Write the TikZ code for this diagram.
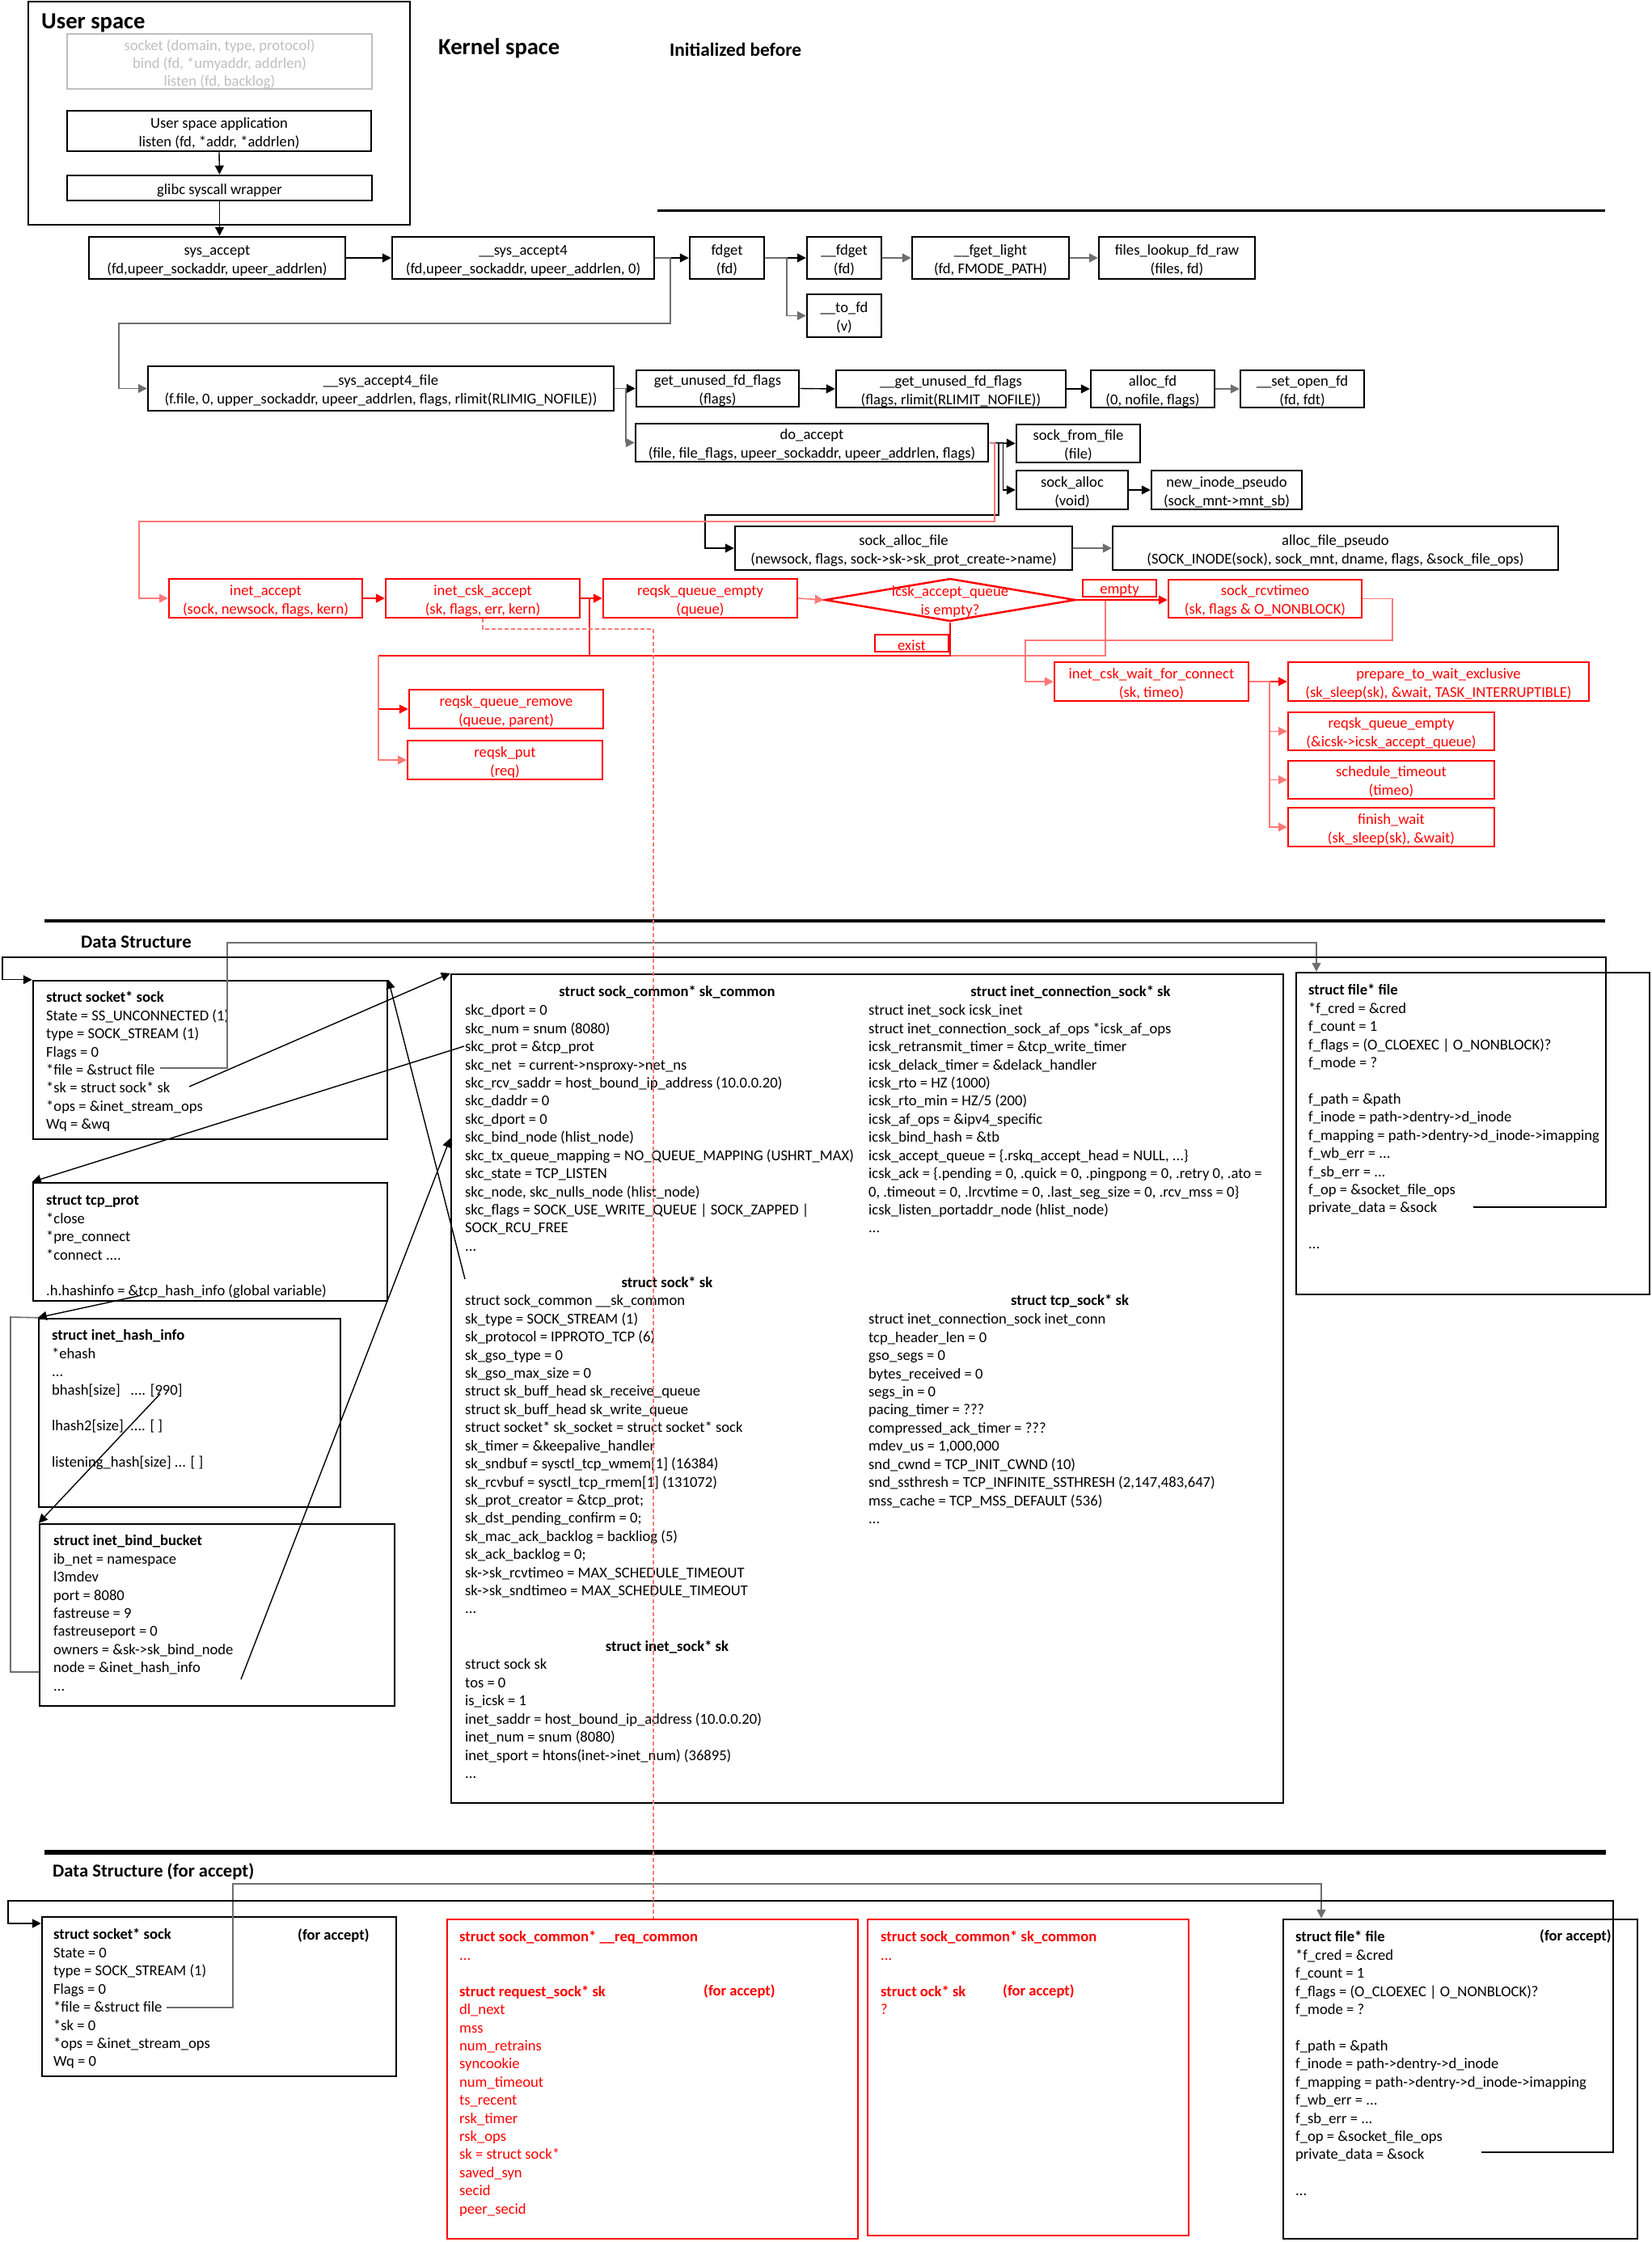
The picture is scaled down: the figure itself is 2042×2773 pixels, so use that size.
\documentclass[tikz,border=0pt]{standalone}
\usepackage{fontspec}
\setmainfont{Carlito}
\usetikzlibrary{arrows.meta,shapes.geometric}
\definecolor{rd}{RGB}{255,0,0}
\definecolor{lrd}{RGB}{255,120,120}
\definecolor{gtx}{RGB}{191,191,191}
\definecolor{cg}{RGB}{110,110,110}
\newcommand\fnf{\fontsize{18.67}{23}\selectfont}
\newcommand\dsf{\fontsize{18.67}{22.5}\selectfont}
\newcommand\twol[2]{\strut#1\\\strut#2}
\newcommand\mkbox[7]{\node[#1,minimum width={(#4-#2)*1bp},minimum height={(#5-#3)*1bp}] (#6) at ({(#2+#4)/2},{(#3+#5)/2}) {};
 \node[#1,draw=none] (#6t) at ({(#2+#4)/2},{(#3+#5)/2+3}) {#7};}
\newcommand\dtx[4]{\node[dtext] (#1) at (#2,{#3-8}) {\strut#4};}
\newcommand\hdx[4]{\node[dhead] (#1) at (#2,{#3+6}) {#4};}
\tikzset{
 fbox/.style={draw=black, line width=2.5bp, inner sep=0pt, align=center, font=\fnf},
 rbox/.style={fbox, draw=rd, text=rd},
 gbox/.style={draw=gtx, line width=2.5bp, inner sep=0pt, align=center, text=gtx, font=\fontsize{18.67}{22}\selectfont},
 dsbox/.style={draw=black, line width=2.5bp, inner sep=0pt},
 rdsbox/.style={draw=rd, line width=2.5bp, inner sep=0pt},
 dtext/.style={anchor=north west, inner sep=0pt, align=left, font=\dsf},
 dhead/.style={anchor=base, inner sep=0pt, font=\dsf\bfseries},
 arw/.style={-{Triangle[length=11bp,width=11bp]}},
 conn/.style={draw=black, line width=1.4bp},
 gconn/.style={draw=cg, line width=1.6bp},
 rconn/.style={draw=rd, line width=1.8bp},
 lconn/.style={draw=lrd, line width=1.6bp},
 dashl/.style={draw=lrd, line width=1.3bp, dash pattern=on 5bp off 3bp},
 ttl/.style={anchor=base west, inner sep=0pt},
}
\begin{document}
\begin{tikzpicture}[x=1bp,y=-1bp]
\useasboundingbox[fill=white] (0,0) rectangle (2042,2773);

% ---------- titles and separators
\node[ttl, font=\fontsize{28.7}{30}\selectfont\bfseries] (tus) at (51,35) {User space};
\node[ttl, font=\fontsize{28.7}{30}\selectfont\bfseries] (tks) at (542,67) {Kernel space};
\node[ttl, font=\fontsize{23.4}{25}\selectfont\bfseries] (tinit) at (828,69) {Initialized before};
\node[ttl, font=\fontsize{22.7}{25}\selectfont\bfseries] (tds) at (100,1172) {Data Structure};
\node[ttl, font=\fontsize{22.7}{25}\selectfont\bfseries] (tdsa) at (65,2321) {Data Structure (for accept)};
\draw[line width=3bp] (813,260) -- (1985,260);
\draw[line width=4.5bp] (55,1139) -- (1985,1139);
\draw[line width=6bp] (55,2291) -- (1986,2291);

% ---------- user space
\mkbox{fbox}{35}{2}{507}{278}{userspace}{}
\mkbox{gbox}{83}{42}{460}{110}{oldcalls}{socket (domain, type, protocol)\\bind (fd, *umyaddr, addrlen)\\listen (fd, backlog)}
\mkbox{fbox}{83}{137}{459}{187}{app}{\twol{User space application}{listen (fd, *addr, *addrlen)}}
\mkbox{fbox}{83}{217}{460}{248}{glibc}{glibc syscall wrapper}

% ---------- row 1
\mkbox{fbox}{110}{293}{427}{345}{sysaccept}{\twol{sys\_accept}{(fd,upeer\_sockaddr, upeer\_addrlen)}}
\mkbox{fbox}{485}{293}{809}{345}{sysaccept4}{\twol{\_\_sys\_accept4}{(fd,upeer\_sockaddr, upeer\_addrlen, 0)}}
\mkbox{fbox}{853}{293}{945}{345}{fdget}{\twol{fdget}{(fd)}}
\mkbox{fbox}{998}{293}{1090}{345}{fdgetb}{\twol{\_\_fdget}{(fd)}}
\mkbox{fbox}{1128}{293}{1322}{345}{fgetlight}{\twol{\_\_fget\_light}{(fd, FMODE\_PATH)}}
\mkbox{fbox}{1359}{293}{1552}{345}{fileslookup}{\twol{files\_lookup\_fd\_raw}{(files, fd)}}
\mkbox{fbox}{998}{364}{1090}{417}{tofd}{\twol{\_\_to\_fd}{(v)}}

% ---------- row 2
\mkbox{fbox}{183}{453}{759}{508}{sysfile}{\twol{\_\_sys\_accept4\_file}{(f.file, 0, upper\_sockaddr, upeer\_addrlen, flags, rlimit(RLIMIG\_NOFILE))}}
\mkbox{fbox}{787}{458}{988}{503}{getunused}{\twol{get\_unused\_fd\_flags}{(flags)}}
\mkbox{fbox}{1034}{458}{1318}{504}{getunusedb}{\twol{\_\_get\_unused\_fd\_flags}{(flags, rlimit(RLIMIT\_NOFILE))}}
\mkbox{fbox}{1349}{458}{1502}{504}{allocfd}{\twol{alloc\_fd}{(0, nofile, flags)}}
\mkbox{fbox}{1534}{458}{1687}{504}{setopen}{\twol{\_\_set\_open\_fd}{(fd, fdt)}}
\mkbox{fbox}{786}{524}{1222}{571}{doaccept}{\twol{do\_accept}{(file, file\_flags, upeer\_sockaddr, upeer\_addrlen, flags)}}
\mkbox{fbox}{1257}{525}{1410}{572}{sockfromfile}{\twol{sock\_from\_file}{(file)}}
\mkbox{fbox}{1257}{582}{1395}{630}{sockalloc}{\twol{sock\_alloc}{(void)}}
\mkbox{fbox}{1424}{582}{1610}{630}{newinode}{\twol{new\_inode\_pseudo}{(sock\_mnt->mnt\_sb)}}
\mkbox{fbox}{909}{651}{1326}{705}{sockallocfile}{\twol{sock\_alloc\_file}{(newsock, flags, sock->sk->sk\_prot\_create->name)}}
\mkbox{fbox}{1376}{651}{1927}{705}{allocfilepseudo}{\twol{alloc\_file\_pseudo}{(SOCK\_INODE(sock), sock\_mnt, dname, flags, \&sock\_file\_ops)}}

% ---------- red part
\mkbox{rbox}{209}{716}{448}{764}{inetaccept}{\twol{inet\_accept}{(sock, newsock, flags, kern)}}
\mkbox{rbox}{477}{716}{717}{764}{inetcsk}{\twol{inet\_csk\_accept}{(sk, flags, err, kern)}}
\mkbox{rbox}{746}{716}{986}{764}{reqempty}{\twol{reqsk\_queue\_empty}{(queue)}}
\node[draw=rd, line width=2.5bp, shape=diamond, minimum width=310bp, minimum height=53bp, inner sep=0pt] (diamond) at (1175,742) {};
\node[font=\fnf, text=rd, align=center, inner sep=0pt] (diamondtxt) at (1175,744) {\twol{icsk\_accept\_queue}{is empty?}};
\mkbox{rbox}{1339}{717}{1430}{738}{emptylbl}{empty}
\mkbox{rbox}{1445}{717}{1684}{764}{rcvtimeo}{\twol{sock\_rcvtimeo}{(sk, flags \& O\_NONBLOCK)}}
\mkbox{rbox}{1082}{785}{1173}{806}{existlbl}{exist}
\mkbox{rbox}{1304}{819}{1544}{867}{waitconn}{\twol{inet\_csk\_wait\_for\_connect}{(sk, timeo)}}
\mkbox{rbox}{1593}{819}{1965}{867}{prepwait}{\twol{prepare\_to\_wait\_exclusive}{(sk\_sleep(sk), \&wait, TASK\_INTERRUPTIBLE)}}
\mkbox{rbox}{1593}{881}{1848}{928}{reqemptyb}{\twol{reqsk\_queue\_empty}{(\&icsk->icsk\_accept\_queue)}}
\mkbox{rbox}{1593}{941}{1848}{988}{schedto}{\twol{schedule\_timeout}{(timeo)}}
\mkbox{rbox}{1593}{999}{1848}{1047}{finishwait}{\twol{finish\_wait}{(sk\_sleep(sk), \&wait)}}
\mkbox{rbox}{506}{853}{746}{901}{reqremove}{\twol{reqsk\_queue\_remove}{(queue, parent)}}
\mkbox{rbox}{504}{916}{745}{964}{reqput}{\twol{reqsk\_put}{(req)}}

% ---------- top connectors
\draw[conn,arw] (app.south) -- (glibc.north);
\draw[conn,arw] (glibc.south) -- (glibc.south |- sysaccept.north);
\draw[conn,arw] (sysaccept.east) -- (sysaccept4.west);
\draw[conn,arw] (sysaccept4.east) -- (fdget.west);
\draw[gconn,arw] (sysaccept4.east) -- (829,319) -- (829,400) -- (147,400) |- (sysfile.west);
\draw[conn,arw] (fdget.east) -- (fdgetb.west);
\draw[gconn,arw] (fdget.east) -- ++(27,0) |- (tofd.west);
\draw[gconn,arw] (fdgetb.east) -- (fgetlight.west);
\draw[gconn,arw] (fgetlight.east) -- (fileslookup.west);
\draw[conn,arw] (sysfile.east) -- (getunused.west);
\draw[gconn,arw] (sysfile.east) -- ++(14,0) |- (doaccept.west);
\draw[conn,arw] (getunused.east) -- (getunusedb.west);
\draw[conn,arw] (getunusedb.east) -- (allocfd.west);
\draw[gconn,arw] (allocfd.east) -- (setopen.west);
\draw[conn,arw] (doaccept.east) -- (sockfromfile.west);
\draw[conn,arw] (doaccept.east) -- ++(17,0) |- (sockalloc.west);
\draw[conn,arw] (sockalloc.east) -- (newinode.west);
\draw[conn,arw] (doaccept.east) -| (1235,637) -- (872,637) |- (sockallocfile.west);
\draw[gconn,arw] (sockallocfile.east) -- (allocfilepseudo.west);
\draw[lconn,arw] (doaccept.east) -| (1230,645) -- (172,645) |- (inetaccept.west);

% ---------- red connectors
\draw[rconn,arw] (inetaccept.east) -- (inetcsk.west);
\draw[rconn,arw] (inetcsk.east) -- (reqempty.west);
\draw[lconn,arw] (reqempty.east) -- (diamond.west);
\draw[rconn] (inetcsk.east) -- ++(11,0) -- ++(0,70);
\draw[lconn] (1367,0 |- diamond.east) -- (1367,811) -- (1175,811);
\draw[rconn] (diamond.south) -- (1175,811) -- (468,811);
\draw[rconn,arw] (468,811) |- (reqremove.west);
\draw[lconn,arw] (468,811) |- (reqput.west);
\draw[rconn,arw] (diamond.east) -- (diamond.east -| rcvtimeo.west);
\draw[lconn,arw] (rcvtimeo.east) -- (1722,0 |- rcvtimeo.east) -- (1722,792) -- (1268,792) |- (waitconn.west);
\draw[rconn,arw] (waitconn.east) -- (prepwait.west);
\draw[lconn,arw] (waitconn.east) -- ++(25,0) |- (reqemptyb.west);
\draw[lconn,arw] (waitconn.east) -- ++(25,0) |- (schedto.west);
\draw[lconn,arw] (waitconn.east) -- ++(25,0) |- (finishwait.west);

% ---------- data structure boxes
\mkbox{dsbox}{41}{1213}{479}{1409}{dsock}{}
\mkbox{dsbox}{41}{1463}{479}{1609}{dtcp}{}
\mkbox{dsbox}{48}{1631}{421}{1864}{dhash}{}
\mkbox{dsbox}{49}{1885}{488}{2110}{dbind}{}
\mkbox{dsbox}{558}{1205}{1587}{2230}{dcommon}{}
\mkbox{dsbox}{1603}{1203}{2040}{1601}{dfile}{}

\dtx{tsock}{57}{1232}{\textbf{struct socket* sock}\\State = SS\_UNCONNECTED (1)\\type = SOCK\_STREAM (1)\\Flags = 0\\*file = \&struct file\\*sk = struct sock* sk\\*ops = \&inet\_stream\_ops\\Wq = \&wq}
\dtx{ttcp}{57}{1483}{\textbf{struct tcp\_prot}\\*close\\*pre\_connect\\*connect ....\\\mbox{}\\.h.hashinfo = \&tcp\_hash\_info (global variable)}
\dtx{thash}{64}{1650}{\textbf{struct inet\_hash\_info}\\*ehash\\...\\bhash[size]\ \ \ .... [990]\\\mbox{}\\lhash2[size]\ \ .... [ ]\\\mbox{}\\listening\_hash[size] ... [ ]}
\dtx{tbind}{66}{1904}{\textbf{struct inet\_bind\_bucket}\\ib\_net = namespace\\l3mdev\\port = 8080\\fastreuse = 9\\fastreuseport = 0\\owners = \&sk->sk\_bind\_node\\node = \&inet\_hash\_info\\...}

\hdx{hcommon}{825}{1226}{struct sock\_common* sk\_common}
\dtx{tcommon}{575}{1248}{skc\_dport = 0\\skc\_num = snum (8080)\\skc\_prot = \&tcp\_prot\\skc\_net\ \ = current->nsproxy->net\_ns\\skc\_rcv\_saddr = host\_bound\_ip\_address (10.0.0.20)\\skc\_daddr = 0\\skc\_dport = 0\\skc\_bind\_node (hlist\_node)\\skc\_tx\_queue\_mapping = NO\_QUEUE\_MAPPING (USHRT\_MAX)\\skc\_state = TCP\_LISTEN\\skc\_node, skc\_nulls\_node (hlist\_node)\\skc\_flags = SOCK\_USE\_WRITE\_QUEUE | SOCK\_ZAPPED |\\SOCK\_RCU\_FREE\\...}
\hdx{hsock}{825}{1586}{struct sock* sk}
\dtx{tsk}{575}{1607}{struct sock\_common \_\_sk\_common\\sk\_type = SOCK\_STREAM (1)\\sk\_protocol = IPPROTO\_TCP (6)\\sk\_gso\_type = 0\\sk\_gso\_max\_size = 0\\struct sk\_buff\_head sk\_receive\_queue\\struct sk\_buff\_head sk\_write\_queue\\struct socket* sk\_socket = struct socket* sock\\sk\_timer = \&keepalive\_handler\\sk\_sndbuf = sysctl\_tcp\_wmem[1] (16384)\\sk\_rcvbuf = sysctl\_tcp\_rmem[1] (131072)\\sk\_prot\_creator = \&tcp\_prot;\\sk\_dst\_pending\_confirm = 0;\\sk\_mac\_ack\_backlog = backliog (5)\\sk\_ack\_backlog = 0;\\sk->sk\_rcvtimeo = MAX\_SCHEDULE\_TIMEOUT\\sk->sk\_sndtimeo = MAX\_SCHEDULE\_TIMEOUT\\...}
\hdx{hinet}{825}{2036}{struct inet\_sock* sk}
\dtx{tinet}{575}{2057}{struct sock sk\\tos = 0\\is\_icsk = 1\\inet\_saddr = host\_bound\_ip\_address (10.0.0.20)\\inet\_num = snum (8080)\\inet\_sport = htons(inet->inet\_num) (36895)\\...}
\hdx{hicsk}{1324}{1226}{struct inet\_connection\_sock* sk}
\dtx{ticsk}{1074}{1248}{struct inet\_sock icsk\_inet\\struct inet\_connection\_sock\_af\_ops *icsk\_af\_ops\\icsk\_retransmit\_timer = \&tcp\_write\_timer\\icsk\_delack\_timer = \&delack\_handler\\icsk\_rto = HZ (1000)\\icsk\_rto\_min = HZ/5 (200)\\icsk\_af\_ops = \&ipv4\_specific\\icsk\_bind\_hash = \&tb\\icsk\_accept\_queue = \{.rskq\_accept\_head = NULL, ...\}\\icsk\_ack = \{.pending = 0, .quick = 0, .pingpong = 0, .retry 0, .ato =\\0, .timeout = 0, .lrcvtime = 0, .last\_seg\_size = 0, .rcv\_mss = 0\}\\icsk\_listen\_portaddr\_node (hlist\_node)\\...}
\hdx{htcp}{1323}{1608}{struct tcp\_sock* sk}
\dtx{ttcpsock}{1074}{1630}{struct inet\_connection\_sock inet\_conn\\tcp\_header\_len = 0\\gso\_segs = 0\\bytes\_received = 0\\segs\_in = 0\\pacing\_timer = ???\\compressed\_ack\_timer = ???\\mdev\_us = 1,000,000\\snd\_cwnd = TCP\_INIT\_CWND (10)\\snd\_ssthresh = TCP\_INFINITE\_SSTHRESH (2,147,483,647)\\mss\_cache = TCP\_MSS\_DEFAULT (536)\\...}
\dtx{tfile}{1618}{1223}{\textbf{struct file* file}\\*f\_cred = \&cred\\f\_count = 1\\f\_flags = (O\_CLOEXEC | O\_NONBLOCK)?\\f\_mode = ?\\\mbox{}\\f\_path = \&path\\f\_inode = path->dentry->d\_inode\\f\_mapping = path->dentry->d\_inode->imapping\\f\_wb\_err = ...\\f\_sb\_err = ...\\f\_op = \&socket\_file\_ops\\private\_data = \&sock\\\mbox{}\\...}

% ---------- data structure connectors
\coordinate (filex) at (198,1321);
\coordinate (skx) at (234,1344);
\coordinate (protx) at (574,1294);
\coordinate (hashx) at (175,1602);
\coordinate (bhashx) at (198,1724);
\coordinate (ownx) at (298,2077);
\coordinate (sockhx) at (575,1582);
\coordinate (pdx) at (1822,1493);
\draw[gconn,arw] (filex) -- (281,1321) -- (281,1166) -- (1628,1166) -- (1628,0 |- dfile.north);
\draw[conn,arw] (pdx) -- (1986,1493) -- (1986,1184) -- (3,1184) -- (3,0 |- dsock.north west) -- (dsock.north west);
\draw[conn,arw] (skx) -- (dcommon.north west);
\draw[conn,arw] (protx) -- (dtcp.north west);
\draw[conn,arw] (hashx) -- (dhash.north west);
\draw[conn,arw] (bhashx) -- (dbind.north west);
\draw[gconn] (dbind.west |- 0,2068) -- (13,2068) -- (13,1629) -- (dhash.north west);
\draw[conn,arw] (ownx) -- (dcommon.west |- 0,1408);
\draw[conn,arw] (sockhx) -- (dsock.north east);

% ---------- bottom section
\mkbox{dsbox}{52}{2371}{490}{2568}{asock}{}
\mkbox{rdsbox}{553}{2374}{1061}{2769}{areq}{}
\mkbox{rdsbox}{1073}{2374}{1470}{2765}{ask}{}
\mkbox{dsbox}{1587}{2374}{2025}{2769}{afile}{}

\dtx{tasock}{66}{2391}{\textbf{struct socket* sock}\\State = 0\\type = SOCK\_STREAM (1)\\Flags = 0\\*file = \&struct file\\*sk = 0\\*ops = \&inet\_stream\_ops\\Wq = 0}
\node[dhead, anchor=base west] (fa1) at (368,2399) {(for accept)};
\dtx{tareq}{568}{2394}{\textcolor{rd}{\textbf{struct sock\_common* \_\_req\_common}}\\\textcolor{rd}{...}\\\mbox{}\\\textcolor{rd}{\textbf{struct request\_sock* sk}}\\\textcolor{rd}{dl\_next}\\\textcolor{rd}{mss}\\\textcolor{rd}{num\_retrains}\\\textcolor{rd}{syncookie}\\\textcolor{rd}{num\_timeout}\\\textcolor{rd}{ts\_recent}\\\textcolor{rd}{rsk\_timer}\\\textcolor{rd}{rsk\_ops}\\\textcolor{rd}{sk = struct sock*}\\\textcolor{rd}{saved\_syn}\\\textcolor{rd}{secid}\\\textcolor{rd}{peer\_secid}}
\node[dhead, anchor=base west, text=rd] (fa2) at (870,2468) {(for accept)};
\dtx{task}{1089}{2394}{\textcolor{rd}{\textbf{struct sock\_common* sk\_common}}\\\textcolor{rd}{...}\\\mbox{}\\\textcolor{rd}{\textbf{struct ock* sk}}\\\textcolor{rd}{?}}
\node[dhead, anchor=base west, text=rd] (fa3) at (1240,2468) {(for accept)};
\dtx{tafile}{1602}{2394}{\textbf{struct file* file}\\*f\_cred = \&cred\\f\_count = 1\\f\_flags = (O\_CLOEXEC | O\_NONBLOCK)?\\f\_mode = ?\\\mbox{}\\f\_path = \&path\\f\_inode = path->dentry->d\_inode\\f\_mapping = path->dentry->d\_inode->imapping\\f\_wb\_err = ...\\f\_sb\_err = ...\\f\_op = \&socket\_file\_ops\\private\_data = \&sock\\\mbox{}\\...}
\node[dhead, anchor=base west] (fa4) at (1904,2400) {(for accept)};

\coordinate (afilex) at (206,2483);
\coordinate (apdx) at (1832,2662);
\draw[gconn,arw] (afilex) -- (288,2483) -- (288,2330) -- (1634,2330) -- (1634,0 |- afile.north);
\draw[conn,arw] (apdx) -- (1995,2662) -- (1995,2351) -- (10,2351) -- (10,2379) -- (asock.west |- 0,2379);

% ---------- dashed trace
\draw[dashl] (inetcsk.south) |- (808,778) -- (808,0 |- areq.north);
\end{tikzpicture}
\end{document}
